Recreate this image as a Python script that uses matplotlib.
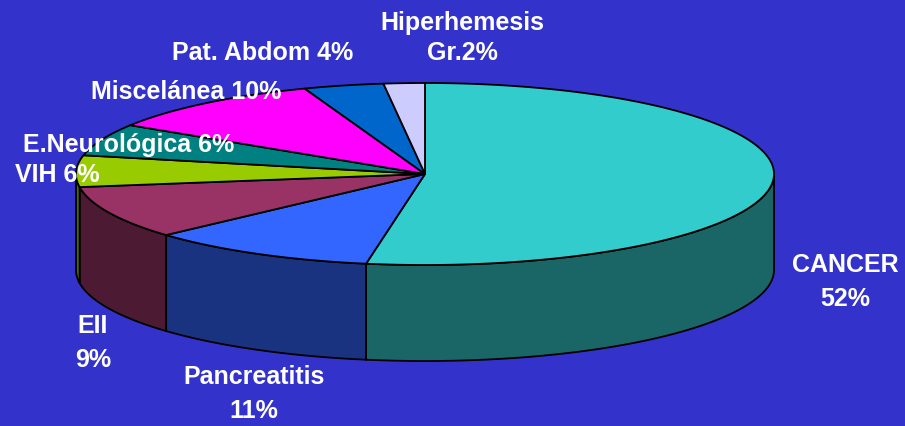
import numpy as np
import matplotlib
matplotlib.use("Agg")
from matplotlib import pyplot as plt

# data, clockwise from 12 o'clock (shares)
labels = ["CANCER\n52%", "Pancreatitis\n11%", "EII\n9%", "VIH 6%",
          "E.Neurológica 6%", "Miscelánea 10%", "Pat. Abdom 4%", "Hiperhemesis\nGr.2%"]
values = [52.7, 10.6, 9.4, 5.6, 5.7, 10.4, 3.7, 1.9]
top_colors = ["#33CCCC", "#3366FF", "#993366", "#99CC00",
              "#008080", "#FF00FF", "#0066CC", "#CCCCFF"]
side_colors = ["#1A6666", "#1A3380", "#4D1A33", "#4D6600",
               "#004040", "#800080", "#003366", "#666680"]
label_pos = [(845, 282), (254, 394), (93, 343), (57, 175),
             (129, 145), (186, 92), (263, 53), (462, 38)]

BG = "#3333CC"
cx, cy = 425, 174      # pie centre (pixels)
rx, ry = 349, 91       # ellipse radii
depth = 96             # thickness of the pie


def arc(t0, t1, n=200):
    t = np.radians(np.linspace(t0, t1, n))
    return cx + rx * np.sin(t), cy - ry * np.cos(t)


fig = plt.figure(figsize=(9.05, 4.26), dpi=100)
fig.patch.set_facecolor(BG)
ax = fig.add_axes([0, 0, 1, 1])
ax.set_facecolor(BG)
ax.set_xlim(0, 905)
ax.set_ylim(426, 0)
ax.axis("off")

angles = np.concatenate([[0], np.cumsum(values) / sum(values) * 360])

# side walls (only the front half is visible)
for i in range(len(values)):
    t0, t1 = max(angles[i], 90), min(angles[i + 1], 270)
    if t1 <= t0:
        continue
    x, y = arc(t0, t1)
    px = np.concatenate([x, x[::-1]])
    py = np.concatenate([y, y[::-1] + depth])
    ax.fill(px, py, facecolor=side_colors[i], edgecolor="black", lw=1.3, zorder=1)

# top faces
for i in range(len(values)):
    x, y = arc(angles[i], angles[i + 1])
    px = np.concatenate([[cx], x, [cx]])
    py = np.concatenate([[cy], y, [cy]])
    ax.fill(px, py, facecolor=top_colors[i], edgecolor="black", lw=1.3,
            joinstyle="round", zorder=2)

for lab, (lx, ly) in zip(labels, label_pos):
    ax.text(lx, ly, lab, color="white", fontsize=18, fontweight="bold",
            family=["Liberation Sans", "DejaVu Sans"], ha="center", va="center",
            linespacing=1.3 if lab.startswith("Hiper") else 1.5, zorder=5)

fig.savefig("out.png", dpi=100, facecolor=BG)
